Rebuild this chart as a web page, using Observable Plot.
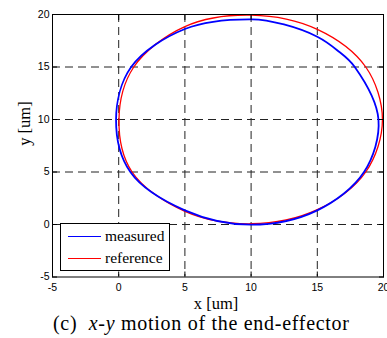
<!DOCTYPE html>
<html>
<head>
<meta charset="utf-8">
<script src="https://cdn.jsdelivr.net/npm/d3@7"></script>
<script src="https://cdn.jsdelivr.net/npm/@observablehq/plot@0.6"></script>
<style>
  html, body { margin: 0; padding: 0; background: #fff; }
  #wrap { position: relative; width: 387px; height: 338px; overflow: hidden; background: #fff; }
  #wrap svg { display: block; }
  .legend { position: absolute; left: 60px; top: 223px; width: 110px; height: 48px;
            box-sizing: border-box; border: 1.3px solid #000; background: #fff; }
  .legend .row { position: absolute; left: 0; height: 20px; width: 100%; }
  .legend .swatch { position: absolute; left: 7px; width: 33px; height: 0; top: 10px; }
  .legend .name { position: absolute; left: 44px; top: 0; line-height: 20px;
                  font-family: "Liberation Serif", "Times New Roman", Times, serif; font-size: 15.5px; color: #000; }
  .caption { position: absolute; left: 53px; top: 314px; width: 300px; white-space: nowrap;
             font-family: "Liberation Serif", "Times New Roman", Times, serif; font-size: 20px; line-height: 19px; color: #000; }
  .caption i { font-style: italic; }
</style>
</head>
<body>
<div id="wrap"></div>
<script>
// axis ticks and dashed grid positions (um)
const xTicks = [-5, 0, 5, 10, 15, 20];
const yTicks = [-5, 0, 5, 10, 15, 20];
const gridX = [0, 5, 10, 15];
const gridY = [0, 5, 10, 15];

// series names and colours
const seriesNames = ["measured", "reference"];
const seriesColors = ["#0000ff", "#ff0000"];

// reference trajectory (closed loop), x and y in um
const refX = [19.92, 18.66, 15.0, 10.0, 5.0, 1.14, 0.02, 1.01, 5.0, 10.0, 15.0, 18.66];
const refY = [10.0, 15.0, 18.59, 19.95, 18.85, 15.0, 10.0, 5.0, 1.25, 0.07, 1.41, 5.0];

// measured end-effector trajectory (closed loop), x and y in um
const measX = [19.62, 17.83, 16.5, 15.0, 12.48, 10.07, 5.0, 0.94, -0.2, 0.88, 5.0, 10.0, 15.0, 18.53];
const measY = [10.0, 15.0, 16.6, 17.88, 19.05, 19.54, 18.62, 15.0, 10.0, 5.0, 1.35, -0.02, 1.35, 5.0];

const reference = refX.map((x, i) => ({x, y: refY[i]}));
const measured = measX.map((x, i) => ({x, y: measY[i]}));

const serif = "'Liberation Serif', 'Times New Roman', Times, serif";
const plainTick = (d) => String(d);

const chart = Plot.plot({
  width: 387,
  height: 314,
  marginLeft: 52,
  marginRight: 4,
  marginTop: 14,
  marginBottom: 37.5,
  x: {domain: [-5, 20]},
  y: {domain: [-5, 20]},
  style: {fontFamily: "'Liberation Sans', Arial, sans-serif", fontSize: "10.5px", color: "#000", background: "#fff", overflow: "visible"},
  marks: [
    Plot.ruleX(gridX, {stroke: "#222", strokeDasharray: "8,5", strokeWidth: 1}),
    Plot.ruleY(gridY, {stroke: "#222", strokeDasharray: "8,5", strokeWidth: 1}),
    Plot.line(reference, {x: "x", y: "y", curve: "catmull-rom-closed", stroke: seriesColors[1], strokeWidth: 1.3}),
    Plot.line(measured, {x: "x", y: "y", curve: "catmull-rom-closed", stroke: seriesColors[0], strokeWidth: 1.8}),
    Plot.frame({stroke: "#000", strokeWidth: 1}),
    Plot.axisX(xTicks, {anchor: "bottom", tickSize: -5, tickPadding: 12, tickFormat: plainTick, label: null}),
    Plot.axisX(xTicks, {anchor: "top", tickSize: -5, tickFormat: () => "", label: null}),
    Plot.axisY(yTicks, {anchor: "left", tickSize: -5, tickPadding: 8, tickFormat: plainTick, label: null}),
    Plot.axisY(yTicks, {anchor: "right", tickSize: -5, tickFormat: () => "", label: null}),
    Plot.text(["x [um]"], {frameAnchor: "bottom", lineAnchor: "bottom", dy: 32, dx: -2,
      fontFamily: serif, fontSize: 16.5}),
    Plot.text(["y [um]"], {frameAnchor: "left", rotate: -90, dx: -28,
      fontFamily: serif, fontSize: 16.5})
  ]
});

const wrap = document.getElementById("wrap");
wrap.appendChild(chart);

// legend box inside the axes
const legend = document.createElement("div");
legend.className = "legend";
seriesNames.forEach((name, i) => {
  const row = document.createElement("div");
  row.className = "row";
  row.style.top = (i === 0 ? 2 : 24) + "px";
  const sw = document.createElement("div");
  sw.className = "swatch";
  sw.style.borderTop = "1.3px solid " + seriesColors[i];
  const label = document.createElement("div");
  label.className = "name";
  label.textContent = name;
  row.appendChild(sw);
  row.appendChild(label);
  legend.appendChild(row);
});
wrap.appendChild(legend);

// caption below the chart, stretched to its line width
const cap = document.createElement("div");
cap.className = "caption";
const span = document.createElement("span");
span.innerHTML = "(c)&nbsp; <i>x</i>-<i>y</i> motion of the end-effector";
cap.appendChild(span);
wrap.appendChild(cap);
const w = span.getBoundingClientRect().width;
const chars = span.textContent.length;
if (chars > 1 && w < 296) span.style.letterSpacing = ((296 - w) / (chars - 1)) + "px";
</script>
</body>
</html>
